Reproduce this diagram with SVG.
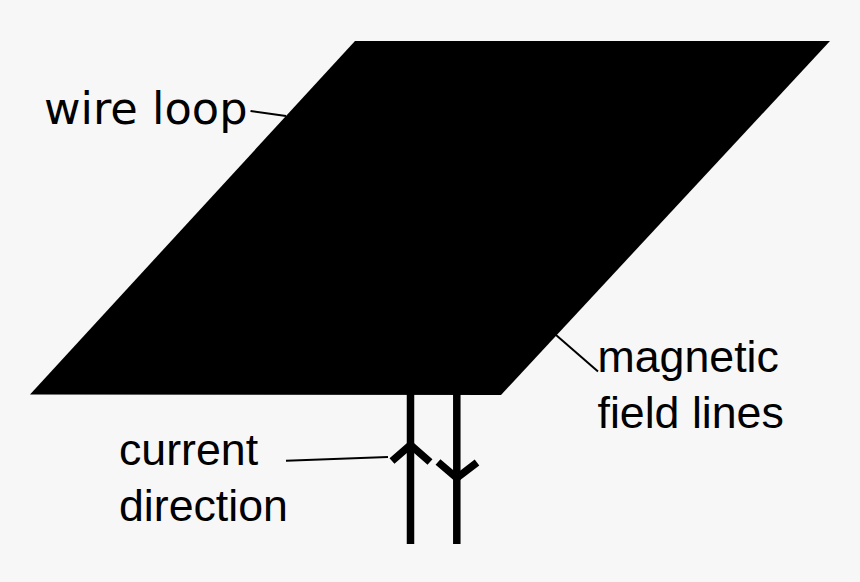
<svg xmlns="http://www.w3.org/2000/svg" width="860" height="582" viewBox="0 0 860 582">
<style>
.lead{fill:none;stroke:#000;stroke-width:2}
.wire{fill:none;stroke:#000;stroke-width:7.500}
.t{fill:#000;font-size:44.700px;font-family:"Liberation Sans",Arial,sans-serif}
.d{fill:#000;font-size:44.700px;font-family:"DejaVu Sans",sans-serif}
</style>
<rect width="860" height="582" fill="#f7f7f7"/>
<g id="loop"><polygon points="355,41 830,41 501,395 30,394.500" fill="#000"/></g>
<g id="connectors">
<path class="lead" d="M250.500 111L286 116"/>
<path class="lead" d="M556 335L598 371.500"/>
<path class="lead" d="M286 460.800L388 457"/>
<path class="wire" d="M410.500 394V544"/>
<path class="wire" d="M456.800 394V544"/>
<path class="wire" d="M392 461L410.500 445L430 462"/>
<path class="wire" d="M438 462L456.800 478L477 462.500"/>
</g>
<g id="wire-loop-label"><text class="d" x="44" y="124">wire loop</text></g>
<g id="magnetic-label"><text class="t" x="597.500" y="372">magnetic</text><text class="t" x="597.500" y="428">field lines</text></g>
<g id="current-label"><text class="t" x="119" y="465">current</text><text class="t" x="119" y="521">direction</text></g>
</svg>
